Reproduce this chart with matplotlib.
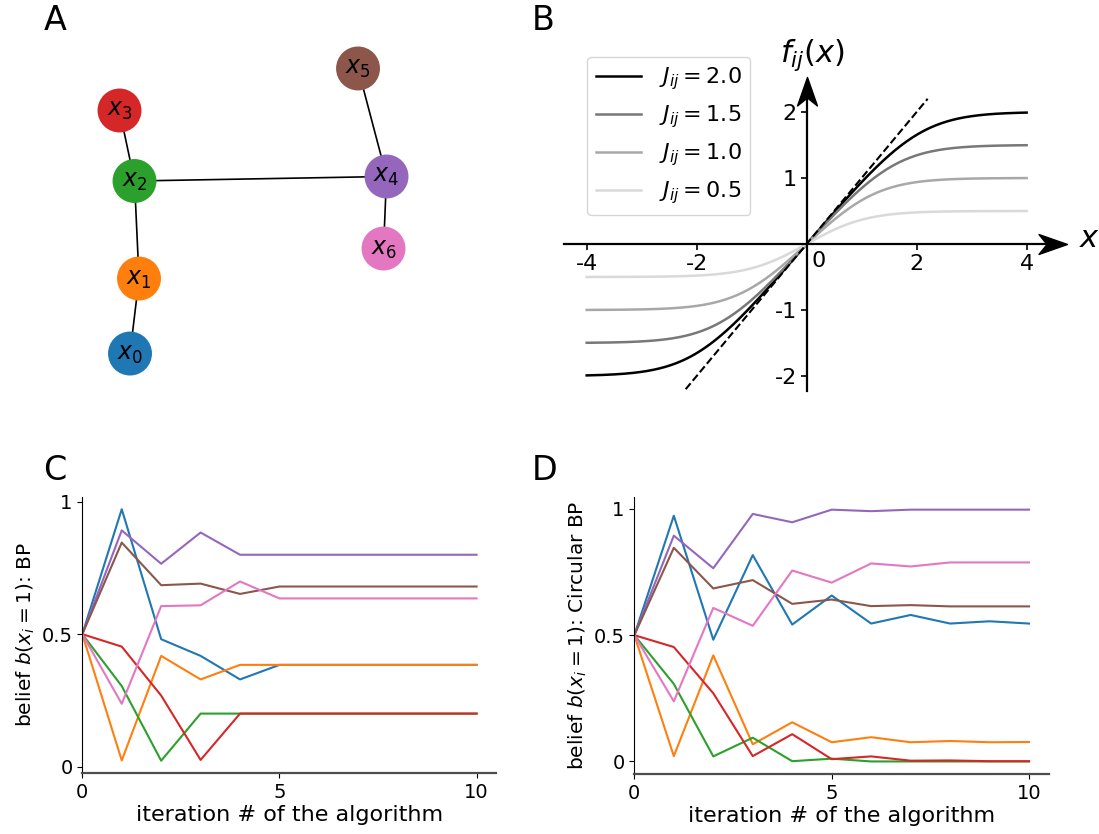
import numpy as np
import matplotlib
matplotlib.use("Agg")
import matplotlib.pyplot as plt
from matplotlib.path import Path

plt.rcParams["font.family"] = "DejaVu Sans"
plt.rcParams["axes.unicode_minus"] = False
plt.rcParams["mathtext.fontset"] = "dejavusans"

TAB = plt.get_cmap("tab10").colors

# ── graph (A): node layout and edges ──
NODE_POS = [(-0.80, -0.89), (-0.74, -0.39), (-0.77, 0.26), (-0.87, 0.73),
            (0.91, 0.29), (0.72, 1.01), (0.89, -0.19)]
EDGES = [(0, 1), (1, 2), (2, 3), (2, 4), (4, 5), (4, 6)]

# ── coupling functions (B) ──
J_VALUES = [2.0, 1.5, 1.0, 0.5]
J_GREYS = ["0.0", "0.47", "0.66", "0.85"]

# ── belief traces (C: BP, D: circular BP), one list per node x0..x6 ──
ITERS = list(range(11))
BP = [
    [0.5, 0.972, 0.481, 0.418, 0.329, 0.384, 0.384, 0.384, 0.384, 0.384, 0.384],
    [0.5, 0.023, 0.418, 0.329, 0.384, 0.384, 0.384, 0.384, 0.384, 0.384, 0.384],
    [0.5, 0.304, 0.022, 0.200, 0.200, 0.200, 0.200, 0.200, 0.200, 0.200, 0.200],
    [0.5, 0.453, 0.268, 0.025, 0.200, 0.200, 0.200, 0.200, 0.200, 0.200, 0.200],
    [0.5, 0.892, 0.766, 0.884, 0.800, 0.800, 0.800, 0.800, 0.800, 0.800, 0.800],
    [0.5, 0.846, 0.685, 0.691, 0.652, 0.680, 0.680, 0.680, 0.680, 0.680, 0.680],
    [0.5, 0.237, 0.606, 0.609, 0.699, 0.635, 0.635, 0.635, 0.635, 0.635, 0.635],
]
CBP = [
    [0.5, 0.973, 0.482, 0.817, 0.542, 0.657, 0.546, 0.580, 0.546, 0.555, 0.546],
    [0.5, 0.021, 0.420, 0.068, 0.155, 0.076, 0.096, 0.076, 0.081, 0.076, 0.077],
    [0.5, 0.307, 0.020, 0.094, 0.001, 0.011, 0.000, 0.000, 0.000, 0.000, 0.000],
    [0.5, 0.453, 0.270, 0.021, 0.108, 0.009, 0.020, 0.003, 0.004, 0.001, 0.001],
    [0.5, 0.894, 0.765, 0.980, 0.947, 0.997, 0.991, 0.997, 0.997, 0.997, 0.997],
    [0.5, 0.846, 0.685, 0.718, 0.624, 0.641, 0.615, 0.619, 0.614, 0.614, 0.614],
    [0.5, 0.238, 0.608, 0.537, 0.756, 0.708, 0.784, 0.772, 0.788, 0.788, 0.788],
]


def arrow_marker(direction):
    # arrowhead with a notched back, tip at the origin
    v = np.array([(0, 0), (-1, 0.35), (-0.72, 0), (-1, -0.35), (0, 0)])
    if direction == "up":
        v = np.column_stack([-v[:, 1], v[:, 0]])
    codes = [Path.MOVETO, Path.LINETO, Path.LINETO, Path.LINETO, Path.CLOSEPOLY]
    return Path(v, codes)


def panel_graph(ax):
    for i, j in EDGES:
        ax.plot([NODE_POS[i][0], NODE_POS[j][0]], [NODE_POS[i][1], NODE_POS[j][1]],
                color="k", lw=1.2, zorder=1)
    for k, (px, py) in enumerate(NODE_POS):
        ax.scatter(px, py, s=1000, color=TAB[k], edgecolors="none", zorder=2)
        ax.text(px, py, f"$x_{k}$", fontsize=17, ha="center", va="center", zorder=3)
    ax.set_xlim(-1.4, 1.4); ax.set_ylim(-1.333, 1.333)
    ax.axis("off")


def panel_coupling(ax):
    xs = np.linspace(-4, 4, 400)
    ax.plot([-2.2, 2.2], [-2.2, 2.2], "k--", lw=1.5, zorder=3)
    for J, c in zip(J_VALUES, J_GREYS):
        ax.plot(xs, np.arctanh(np.tanh(J) * np.tanh(xs)), color=c, lw=1.8,
                label=f"$J_{{ij}} = {J:.1f}$")
    for s in ["top", "right"]:
        ax.spines[s].set_visible(False)
    ax.spines["left"].set_position(("data", 0))
    ax.spines["bottom"].set_position(("data", 0))
    ax.spines["left"].set_bounds(-2.23, 2.3)
    ax.spines["bottom"].set_bounds(-4.42, 4.45)
    for s in ["left", "bottom"]:
        ax.spines[s].set_linewidth(1.6)
    ax.plot(4.73, 0, marker=arrow_marker("right"), ms=41, color="k", clip_on=False)
    ax.plot(0, 2.53, marker=arrow_marker("up"), ms=41, color="k", clip_on=False)
    ax.set_xticks([-4, -2, 2, 4]); ax.set_yticks([-2, -1, 1, 2])
    ax.tick_params(labelsize=16, width=1.2, length=4, pad=3)
    ax.text(0.08, -0.1, "0", fontsize=16, ha="left", va="top")
    ax.text(5.14, 0.08, "$x$", fontsize=22, ha="center", va="center")
    ax.text(0.1, 2.86, "$f_{ij}(x)$", fontsize=22, ha="center", va="center")
    ax.set_xlim(-4.6, 5.0); ax.set_ylim(-2.4, 2.95)
    ax.legend(loc="upper left", bbox_to_anchor=(0.064, 0.979), borderaxespad=0,
              fontsize=16, handlelength=2.0)


def panel_beliefs(ax, traces, ylab):
    for k, tr in enumerate(traces):
        ax.plot(ITERS, tr, color=TAB[k], lw=1.5)
    ax.set_xlim(0, 10.5)
    ax.set_xticks([0, 5, 10]); ax.set_yticks([0, 0.5, 1])
    ax.set_yticklabels(["0", "0.5", "1"])
    ax.spines["top"].set_visible(False); ax.spines["right"].set_visible(False)
    ax.spines["bottom"].set_color("0.3"); ax.spines["bottom"].set_linewidth(1.6)
    ax.tick_params(labelsize=14)
    ax.set_xlabel("iteration # of the algorithm", fontsize=16, labelpad=2)
    ax.set_ylabel(ylab, fontsize=14.5, labelpad=3)


def main():
    fig = plt.figure(figsize=(10.99, 8.34), dpi=100)
    axA = fig.add_axes([0.0364, 0.4964, 0.3822, 0.4796])
    axB = fig.add_axes([0.5038, 0.5175, 0.4804, 0.4234])
    axC = fig.add_axes([0.0749, 0.0728, 0.3767, 0.3317])
    axD = fig.add_axes([0.5772, 0.0719, 0.3771, 0.3321])

    panel_graph(axA)
    panel_coupling(axB)
    panel_beliefs(axC, BP, "belief $b(x_i = 1)$: BP")
    panel_beliefs(axD, CBP, "belief $b(x_i = 1)$: Circular BP")

    for lab, x, y in [("A", 0.050, 0.976), ("B", 0.494, 0.976),
                      ("C", 0.050, 0.436), ("D", 0.496, 0.436)]:
        fig.text(x, y, lab, fontsize=24, ha="center", va="center")

    fig.savefig("out.png", dpi=100)
    plt.close(fig)


if __name__ == "__main__":
    main()
